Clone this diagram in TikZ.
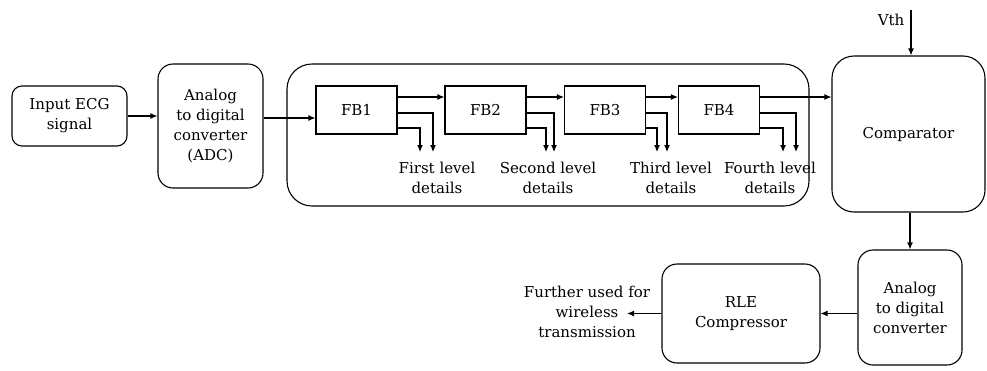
\documentclass[tikz,border=0pt]{standalone}
\usepackage{fontspec}
\setmainfont{DejaVu Serif}
\usetikzlibrary{arrows.meta}
\begin{document}
\begin{tikzpicture}[x=1pt,y=-1pt,
  font=\rmfamily\fontsize{15}{20}\selectfont,
  line width=1.1pt,
  rbox/.style={draw, rounded corners=#1, align=center, inner sep=0pt},
  fbbox/.style={draw, minimum width=81pt, minimum height=48pt, inner sep=0pt},
  arr/.style={-{Latex[length=7pt,width=6pt]}},
  lbl/.style={align=center, inner sep=0pt}]
\useasboundingbox (0,0) rectangle (987,370);

% main boxes
\node[rbox=10pt, minimum width=115pt, minimum height=60pt] (in) at (69.5,116) {Input ECG\\signal};
\node[rbox=15pt, minimum width=105pt, minimum height=124pt] (adc) at (210.5,126) {Analog\\to digital\\converter\\(ADC)};
\node[rbox=25pt, minimum width=522pt, minimum height=142pt] (cont) at (548,135) {};
\node[fbbox] (fb1) at (356.5,110) {FB1};
\node[fbbox] (fb2) at (485.5,110) {FB2};
\node[fbbox] (fb3) at (605,110) {FB3};
\node[fbbox] (fb4) at (719,110) {FB4};
\node[rbox=22pt, minimum width=153pt, minimum height=156pt] (cmp) at (908.5,134) {Comparator};
\node[rbox=15pt, minimum width=104pt, minimum height=115pt] (adc2) at (910,307.5) {Analog\\to digital\\converter};
\node[rbox=15pt, minimum width=158pt, minimum height=99pt] (rle) at (741,313.5) {RLE\\Compressor};

% labels
\node[lbl] (l1) at (437,178) {First level\\details};
\node[lbl] (l2) at (548,178) {Second level\\details};
\node[lbl] (l3) at (671,178) {Third level\\details};
\node[lbl] (l4) at (770,178) {Fourth level\\details};
\node[lbl] (vth) at (891,20) {Vth};
\node[lbl] (fu) at (587,312) {Further used for\\wireless\\transmission};

% coordinates
\coordinate (v1a) at (433,152); \coordinate (v1b) at (420,152);
\coordinate (v2a) at (554,152); \coordinate (v2b) at (546,152);
\coordinate (v3a) at (667,152); \coordinate (v3b) at (657,152);
\coordinate (v4a) at (796,152); \coordinate (v4b) at (783,152);
\coordinate (vtop) at (911,10);
\coordinate (fuend) at (627,313.5);
\coordinate (t4) at ([yshift=13pt]fb4.east);

% connectors
\draw[arr] (in.east) -- (adc.west |- in.east);
\draw[arr] ([yshift=8pt]adc.east) -- ([yshift=-8pt]fb1.west);
\draw[arr] ([yshift=13pt]fb1.east) -- ([yshift=13pt]fb2.west);
\draw[arr] ([yshift=13pt]fb2.east) -- ([yshift=13pt]fb3.west);
\draw[arr] ([yshift=13pt]fb3.east) -- ([yshift=13pt]fb4.west);
\draw[arr] (t4) -- (t4 -| cmp.west);

\draw[arr] ([yshift=-3pt]fb1.east) -| (v1a);
\draw[arr] ([yshift=-18pt]fb1.east) -| (v1b);
\draw[arr] ([yshift=-3pt]fb2.east) -| (v2a);
\draw[arr] ([yshift=-18pt]fb2.east) -| (v2b);
\draw[arr] ([yshift=-3pt]fb3.east) -| (v3a);
\draw[arr] ([yshift=-18pt]fb3.east) -| (v3b);
\draw[arr] ([yshift=-3pt]fb4.east) -| (v4a);
\draw[arr] ([yshift=-18pt]fb4.east) -| (v4b);

\draw[arr] (vtop) -- (vtop |- cmp.north);
\draw[arr] (cmp.south -| adc2.north) -- (adc2.north);
\draw[arr] (adc2.west |- rle.east) -- (rle.east);
\draw[arr] (rle.west) -- (fuend);
\end{tikzpicture}
\end{document}
